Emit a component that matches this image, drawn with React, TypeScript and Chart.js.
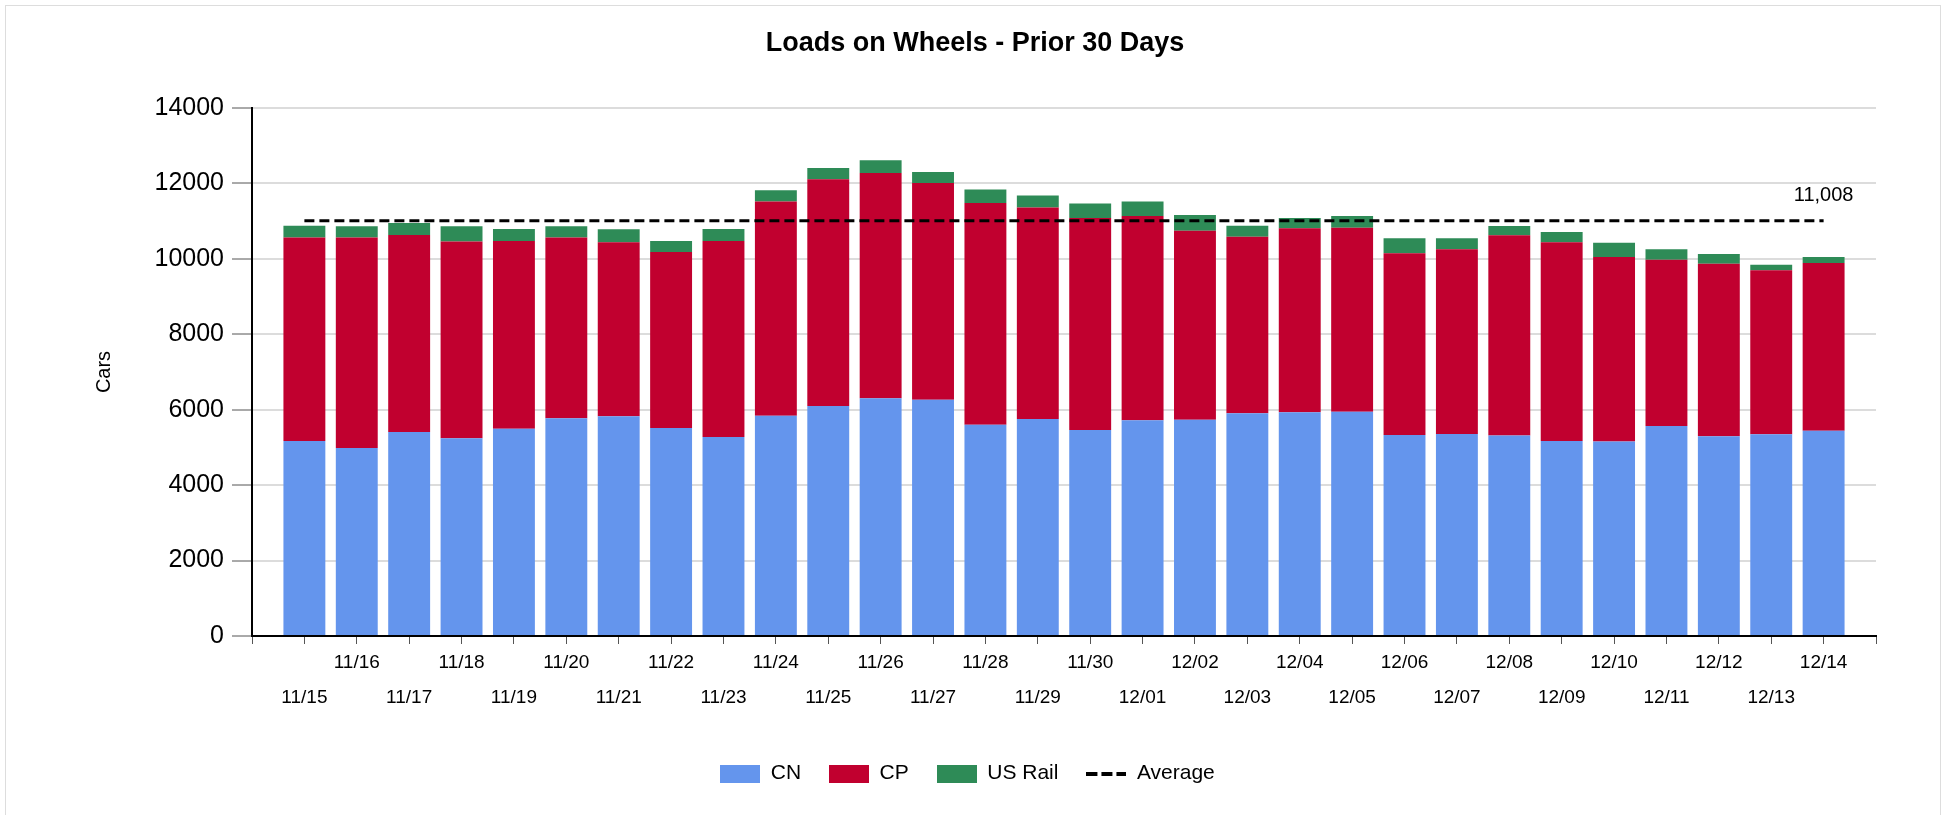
import React, { useEffect, useRef } from 'react';
import { Chart, registerables } from 'chart.js';

Chart.register(...registerables);

const chartTitle = 'Loads on Wheels - Prior 30 Days';
const yAxisTitle = 'Cars';

const dates = [
  '11/15', '11/16', '11/17', '11/18', '11/19', '11/20', '11/21', '11/22', '11/23', '11/24',
  '11/25', '11/26', '11/27', '11/28', '11/29', '11/30', '12/01', '12/02', '12/03', '12/04',
  '12/05', '12/06', '12/07', '12/08', '12/09', '12/10', '12/11', '12/12', '12/13', '12/14',
];

const cnValues = [
  5171, 4985, 5410, 5242, 5498, 5773, 5826, 5516, 5277, 5843,
  6099, 6303, 6267, 5604, 5754, 5463, 5719, 5737, 5905, 5931,
  5949, 5330, 5357, 5313, 5171, 5154, 5569, 5295, 5348, 5445,
];

const cpValues = [
  5392, 5578, 5224, 5215, 4977, 4790, 4614, 4667, 5198, 5675,
  6011, 5975, 5746, 5879, 5605, 5622, 5419, 5011, 4684, 4879,
  4879, 4818, 4897, 5312, 5269, 4896, 4410, 4578, 4349, 4446,
];

const usRailValues = [
  318, 301, 318, 407, 318, 301, 344, 292, 318, 301,
  300, 336, 292, 353, 318, 380, 380, 416, 292, 275,
  310, 398, 292, 248, 273, 380, 275, 257, 150, 159,
];

const averageValue = 11008;
const averageText = '11,008';

const yTicks = { min: 0, max: 14000, step: 2000 };

const COLORS = {
  cn: '#6495ED',
  cp: '#C1002F',
  us: '#2E8B57',
  avg: '#000000',
};

const FONT = "'Liberation Sans', Arial, Helvetica, sans-serif";

function boxImage(color: string) {
  const c = document.createElement('canvas');
  c.width = 40;
  c.height = 18;
  const ctx = c.getContext('2d')!;
  ctx.fillStyle = color;
  ctx.fillRect(0, 0, 40, 18);
  return c;
}

function dashImage() {
  const c = document.createElement('canvas');
  c.width = 40;
  c.height = 4;
  const ctx = c.getContext('2d')!;
  ctx.fillStyle = '#000';
  ctx.fillRect(0, 0, 11, 4);
  ctx.fillRect(15, 0, 11, 4);
  ctx.fillRect(30, 0, 10, 4);
  return c;
}

export default function App() {
  const ref = useRef<HTMLCanvasElement | null>(null);

  useEffect(() => {
    if (!ref.current) return;
    const pad = (arr: any[]) => [null, ...arr, null];
    const labels: any[] = ['', ...dates.map((d, i) => (i % 2 === 0 ? ['', d] : d)), ''];
    const avgData = pad(dates.map(() => averageValue));

    const legendImages = [boxImage(COLORS.cn), boxImage(COLORS.cp), boxImage(COLORS.us), dashImage()];

    const avgLabelPlugin = {
      id: 'avgLabel',
      afterDatasetsDraw(chart: any) {
        const meta = chart.getDatasetMeta(3);
        const pt = meta.data[dates.length];
        if (!pt) return;
        const ctx = chart.ctx;
        ctx.save();
        ctx.font = `20px ${FONT}`;
        ctx.fillStyle = '#000';
        ctx.textAlign = 'center';
        ctx.textBaseline = 'middle';
        ctx.fillText(averageText, pt.x, pt.y - 25);
        ctx.restore();
      },
    };

    const titlePlugin = {
      id: 'centerTitle',
      afterDraw(chart: any) {
        const ctx = chart.ctx;
        ctx.save();
        ctx.font = `bold 27px ${FONT}`;
        ctx.fillStyle = '#000';
        ctx.textAlign = 'center';
        ctx.textBaseline = 'middle';
        ctx.fillText(chartTitle, chart.width / 2 + 2, 37.5);
        ctx.restore();
      },
    };

    const chart = new Chart(ref.current, {
      type: 'bar',
      data: {
        labels,
        datasets: [
          { type: 'bar', label: 'CN', data: pad(cnValues), backgroundColor: COLORS.cn, borderWidth: 0, stack: 'rail' } as any,
          { type: 'bar', label: 'CP', data: pad(cpValues), backgroundColor: COLORS.cp, borderWidth: 0, stack: 'rail' } as any,
          { type: 'bar', label: 'US Rail', data: pad(usRailValues), backgroundColor: COLORS.us, borderWidth: 0, stack: 'rail' } as any,
          {
            type: 'line',
            label: 'Average',
            data: avgData,
            borderColor: COLORS.avg,
            borderWidth: 3,
            borderDash: [10, 5],
            pointRadius: 0,
            fill: false,
            stack: 'avg',
            order: -1,
          } as any,
        ],
      },
      options: {
        responsive: false,
        animation: false,
        devicePixelRatio: 1,
        events: [],
        datasets: {
          bar: { barPercentage: 0.8, categoryPercentage: 1 },
        },
        layout: { padding: { left: 53, right: 64, top: 102, bottom: 36 } },
        plugins: {
          title: { display: false },
          tooltip: { enabled: false },
          legend: {
            display: true,
            position: 'bottom',
            labels: {
              usePointStyle: true,
              pointStyleWidth: 40,
              boxWidth: 40,
              boxHeight: 18,
              padding: 28,
              color: '#000',
              font: { family: FONT, size: 21 },
              generateLabels: () =>
                ['CN', 'CP', 'US Rail', 'Average'].map((t, i) => ({
                  text: t,
                  pointStyle: legendImages[i] as any,
                  fillStyle: 'transparent',
                  strokeStyle: 'transparent',
                  lineWidth: 0,
                  hidden: false,
                  datasetIndex: i,
                  fontColor: '#000',
                })),
            },
          },
        },
        scales: {
          x: {
            type: 'category',
            offset: false,
            stacked: true,
            grid: {
              display: true,
              offset: false,
              drawOnChartArea: false,
              drawTicks: true,
              tickLength: 8,
              tickColor: '#555',
              tickWidth: 1,
            },
            border: { display: true, color: '#000', width: 2 },
            ticks: {
              autoSkip: false,
              maxRotation: 0,
              minRotation: 0,
              padding: 1,
              color: '#000',
              font: { family: FONT, size: 19, lineHeight: 35 / 19 },
            },
            afterFit: (scale: any) => {
              scale.height = 99;
            },
          },
          y: {
            type: 'linear',
            stacked: true,
            min: yTicks.min,
            max: yTicks.max,
            ticks: {
              stepSize: yTicks.step,
              padding: 8,
              color: '#000',
              font: { family: FONT, size: 25 },
              callback: (v: any) => String(v),
            },
            grid: {
              color: '#dcdcdc',
              lineWidth: 2,
              tickLength: 20,
              tickColor: '#555',
              tickWidth: 1,
            },
            border: { display: true, color: '#000', width: 2 },
            title: {
              display: true,
              text: yAxisTitle,
              color: '#000',
              font: { family: FONT, size: 20, lineHeight: 1.2 },
              padding: { top: 33, bottom: 0 },
            },
            afterFit: (scale: any) => {
              scale.width = 193;
            },
          },
        },
      } as any,
      plugins: [avgLabelPlugin, titlePlugin],
    });

    return () => chart.destroy();
  }, []);

  return (
    <div
      style={{
        position: 'absolute',
        left: 5,
        top: 5,
        width: 1936,
        height: 826,
        border: '1px solid #dddddd',
        boxSizing: 'border-box',
        background: '#fff',
      }}
    >
      <canvas ref={ref} width={1934} height={824} style={{ display: 'block', width: 1934, height: 824 }} />
    </div>
  );
}
